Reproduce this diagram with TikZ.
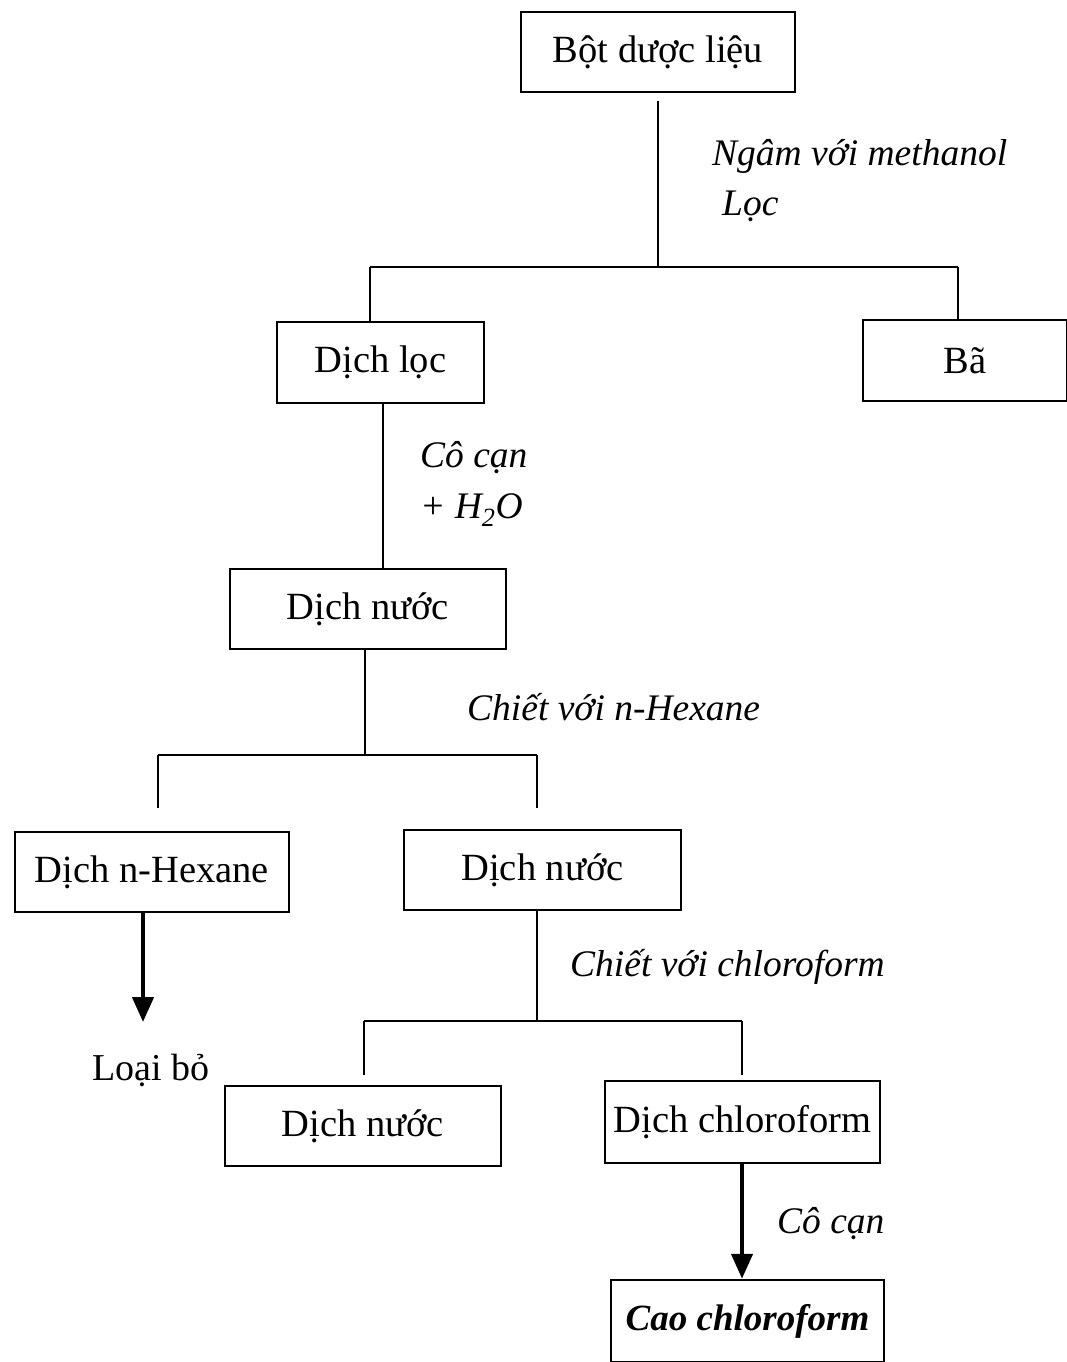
\documentclass[tikz,border=0pt]{standalone}
\usepackage{fontspec}
\setmainfont{Liberation Serif}
\usetikzlibrary{arrows.meta}
\begin{document}
\begin{tikzpicture}[x=1pt,y=-1pt,
  box/.style={draw, line width=2pt, inner sep=0pt, align=center, font=\fontsize{38.5}{44}\selectfont},
  lbl/.style={anchor=base west, inner sep=0pt, font=\fontsize{37.5}{42}\selectfont\itshape},
  conn/.style={line width=2pt},
  bigarrow/.style={line width=4.5pt, -{Triangle[width=21pt,length=25pt]}}]
\useasboundingbox[fill=white] (0,0) rectangle (1066,1362);
% boxes
\node[box, minimum width=274pt, minimum height=80pt] (bot) at (658,52) {B\^{o}̣t dược liệu};
\node[box, minimum width=207pt, minimum height=81pt] (loc) at (380.5,362.5) {Dịch lọc};
\node[box, minimum width=204pt, minimum height=81pt] (ba) at (965,360.5) {Bã};
\node[box, minimum width=276pt, minimum height=80pt] (nuoc1) at (368,609) {Dịch nước};
\node[box, minimum width=274pt, minimum height=80pt] (hex) at (152,872) {Dịch n-Hexane};
\node[box, minimum width=277pt, minimum height=80pt] (nuoc2) at (542.5,870) {Dịch nước};
\node[box, minimum width=276pt, minimum height=80pt] (nuoc3) at (363,1126) {Dịch nước};
\node[box, minimum width=275pt, minimum height=82pt] (chl) at (742.5,1122) {Dịch chloroform};
\node[box, line width=2.5pt, minimum width=273pt, minimum height=82pt, font=\fontsize{37}{44}\selectfont\bfseries\itshape] (cao) at (747.5,1321) {Cao chloroform};
% labels
\node[lbl] (l1) at (712,165) {Ngâm với methanol};
\node[lbl] (l2) at (722,215) {Lọc};
\node[lbl] (l3) at (420,467) {Cô cạn};
\node[lbl] (l4) at (420,518) {+ H\textsubscript{2}O};
\node[lbl] (l5) at (467,720) {Chiết với n-Hexane};
\node[lbl] (l6) at (570,976) {Chiết với chloroform};
\node[lbl] (l7) at (777,1233) {Cô cạn};
\node[anchor=base west, inner sep=0pt, font=\fontsize{38}{44}\selectfont] (lb) at (92,1080) {Loại bỏ};
% junctions
\coordinate (j1) at (658,267);
\coordinate (j1l) at (370,267);
\coordinate (j1r) at (958,267);
\coordinate (j3) at (365,755);
\coordinate (j3l) at (158,755);
\coordinate (j3r) at (537,755);
\coordinate (j4) at (537,1021);
\coordinate (j4l) at (364,1021);
\coordinate (j4r) at (742,1021);
\coordinate (e1) at (143,1022);
% connectors
\draw[conn, shorten <=8pt] (bot.south) -- (j1);
\draw[conn] (j1l) -- (j1r);
\draw[conn] (j1l) -- (j1l |- loc.north);
\draw[conn] (j1r) -- (j1r |- ba.north);
\draw[conn] (loc.south -| 383,0) -- (383,569);
\draw[conn] (nuoc1.south -| j3) -- (j3);
\draw[conn] (j3l) -- (j3r);
\draw[conn] (j3l) -- ++(0,53);
\draw[conn] (j3r) -- ++(0,53);
\draw[bigarrow] (hex.south -| e1) -- (e1);
\draw[conn] (nuoc2.south -| j4) -- (j4);
\draw[conn] (j4l) -- (j4r);
\draw[conn] (j4l) -- ++(0,54);
\draw[conn] (j4r) -- ++(0,54);
\draw[bigarrow] (chl.south -| j4r) -- (j4r |- cao.north);
\end{tikzpicture}
\end{document}
